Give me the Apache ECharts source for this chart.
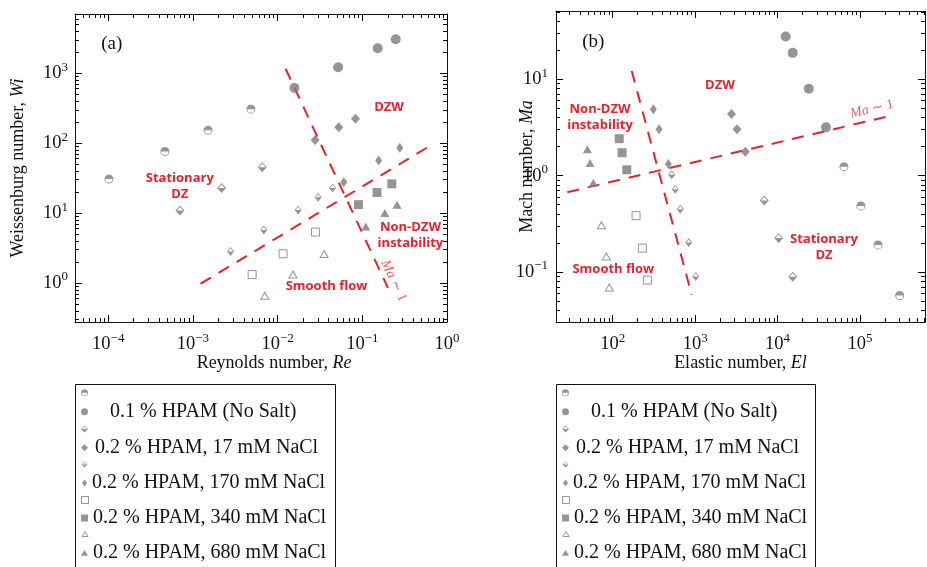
<!DOCTYPE html>
<html><head><meta charset="utf-8">
<script src="https://cdn.jsdelivr.net/npm/echarts@6/dist/echarts.min.js"></script>
<style>html,body{margin:0;padding:0;background:#fff}#c{width:927px;height:567px}</style>
</head><body><div id="c"></div>
<script>
// ---------------- DATA ----------------
const SERIES_NAMES = ['0.1 % HPAM (No Salt)', '0.2 % HPAM, 17 mM NaCl', '0.2 % HPAM, 170 mM NaCl', '0.2 % HPAM, 340 mM NaCl', '0.2 % HPAM, 680 mM NaCl'];

// Panel (a): Reynolds number Re (x) vs Weissenberg number Wi (y)
const a_noSalt_stat_re = [1.02e-4, 4.67e-4, 1.51e-3, 4.83e-3];
const a_noSalt_stat_wi = [30.6, 75.9, 153, 306];
const a_noSalt_flow_re = [0.0158, 0.0518, 0.152, 0.248];
const a_noSalt_flow_wi = [617, 1218, 2275, 3060];
const a_17_stat_re = [7.02e-4, 2.18e-3, 6.59e-3];
const a_17_stat_wi = [10.9, 22.8, 45.4];
const a_17_flow_re = [0.0277, 0.0527, 0.083];
const a_17_flow_wi = [111, 169, 224];
const a_170_stat_re = [2.78e-3, 6.87e-3, 0.01746, 0.0301, 0.0445];
const a_170_stat_wi = [2.83, 5.71, 11.1, 16.9, 22.8];
const a_170_flow_re = [0.0604, 0.156, 0.277];
const a_170_flow_wi = [27.7, 56.4, 85.7];
const a_340_stat_re = [5.0e-3, 0.0116, 0.028];
const a_340_stat_wi = [1.32, 2.62, 5.35];
const a_340_flow_re = [0.0902, 0.149, 0.223];
const a_340_flow_wi = [13.2, 19.7, 26.2];
const a_680_stat_re = [7.06e-3, 0.0152, 0.0354];
const a_680_stat_wi = [0.659, 1.32, 2.6];
const a_680_flow_re = [0.11, 0.184, 0.257];
const a_680_flow_wi = [6.44, 10, 13.2];
const a_line_ma_re = [0.01239, 0.201];
const a_line_ma_wi = [1164, 0.849];
const a_line_el_re = [1.23e-3, 0.659];
const a_line_el_wi = [0.977, 94.6];

// Panel (b): Elastic number El (x) vs Mach number Ma (y)
const b_noSalt_stat_el = [63900, 102800, 165500, 303000];
const b_noSalt_stat_ma = [1.24, 0.485, 0.191, 0.0571];
const b_noSalt_flow_el = [12560, 15270, 23900, 38700];
const b_noSalt_flow_ma = [27.8, 18.8, 7.97, 3.17];
const b_17_stat_el = [6900, 10330, 15270];
const b_17_stat_ma = [0.551, 0.226, 0.0892];
const b_17_flow_el = [2760, 3220, 4060];
const b_17_flow_ma = [4.36, 3.03, 1.77];
const b_170_stat_el = [520, 574, 661, 836, 1016];
const b_170_stat_ma = [1.02, 0.723, 0.449, 0.202, 0.0898];
const b_170_flow_el = [311, 365, 473];
const b_170_flow_ma = [4.88, 3.03, 1.32];
const b_340_stat_el = [192, 229, 263];
const b_340_stat_ma = [0.385, 0.177, 0.0824];
const b_340_flow_el = [120, 130, 148];
const b_340_flow_ma = [2.42, 1.73, 1.15];
const b_680_stat_el = [72.9, 83.6, 90.9];
const b_680_stat_ma = [0.306, 0.145, 0.069];
const b_680_flow_el = [49.2, 53.1, 58.2];
const b_680_flow_ma = [1.88, 1.35, 0.846];
const b_line_ma_el = [28.1, 227000];
const b_line_ma_ma = [0.673, 4.15];
const b_line_el_el = [170, 908];
const b_line_el_ma = [12.2, 0.058];

// Axis ticks
const A_X_TICKS = [1e-4, 1e-3, 1e-2, 1e-1, 1];
const A_Y_TICKS = [1, 10, 100, 1000];
const B_X_TICKS = [100, 1000, 1e4, 1e5];
const B_Y_TICKS = [0.1, 1, 10];
const A_X_RANGE = [4.05e-5, 1];
const A_Y_RANGE = [0.277, 7030];
const B_X_RANGE = [20.5, 615000];
const B_Y_RANGE = [0.0303, 51.1];

// ---------------- STYLE ----------------
const GRAY = '#7a7a7a';
const RED = '#e8212b';
const INK = '#111111';
const TICK = '#000000';
const SERIF = "'Liberation Serif', 'DejaVu Serif', serif";
const SANS = "'Open Sans', 'Noto Sans', sans-serif";
const HALF_CIRCLE = 'path://M0,10 A10,10 0 1,1 20,10 A10,10 0 1,1 0,10 Z M2,10 A8,8 0 0,0 18,10 Z';
const HALF_DIAMOND = 'path://M10,0 L20,10 L10,20 L0,10 Z M10,2.9 L2.9,10 L17.1,10 Z';

function pairs(xs, ys) { return xs.map((x, i) => [x, ys[i]]); }
function minorTicks(r) {
  const out = [];
  for (let d = Math.floor(Math.log10(r[0])); d <= Math.ceil(Math.log10(r[1])); d++)
    for (let m = 2; m <= 9; m++) { const v = m * Math.pow(10, d); if (v > r[0] && v < r[1]) out.push(v); }
  return out;
}
function pow10Label(v) {
  const e = Math.round(Math.log10(v));
  return '{b|10}{s|' + (e < 0 ? '\u2212' + (-e) : e) + '}';
}
const labelRich = {
  b: { fontFamily: SERIF, fontSize: 18.5, color: INK },
  s: { fontFamily: SERIF, fontSize: 13, color: INK, padding: [0, 0, 12, 0] }
};
function axesFor(dim, grid, range, majors, name, nameGap, margin, namePad) {
  const pos = dim === 'x' ? ['bottom', 'top'] : ['left', 'right'];
  const base = {
    type: 'log', logBase: 10, gridIndex: grid, min: range[0], max: range[1],
    splitLine: { show: false }, minorTick: { show: false }, minorSplitLine: { show: false }
  };
  const out = [];
  pos.forEach((p, k) => {
    out.push(Object.assign({}, base, {
      position: p,
      axisLine: { show: true, onZero: false, lineStyle: { color: INK, width: 1 } },
      axisTick: { show: true, inside: true, length: 7, lineStyle: { color: TICK, width: 1 }, customValues: majors },
      axisLabel: k === 0 ? { show: true, customValues: majors, formatter: pow10Label, margin: margin, rich: labelRich } : { show: false },
      name: k === 0 ? name : '',
      nameLocation: 'middle', nameGap: nameGap, nameMoveOverlap: false,
      nameTextStyle: {
        padding: namePad || 0,
        rich: {
          t: { fontFamily: SERIF, fontSize: 18, color: INK },
          i: { fontFamily: SERIF, fontSize: 18, color: INK, fontStyle: 'italic' }
        }
      }
    }));
    out.push(Object.assign({}, base, {
      position: p,
      axisLine: { show: false, onZero: false },
      axisTick: { show: true, inside: true, length: 4, lineStyle: { color: TICK, width: 1 }, customValues: minorTicks(range) },
      axisLabel: { show: false }
    }));
  });
  return out;
}

const xAxes = [].concat(
  axesFor('x', 0, A_X_RANGE, A_X_TICKS, '{t|Reynolds number, }{i|Re}', 32, 10, [0, 0, 0, 26]),
  axesFor('x', 1, B_X_RANGE, B_X_TICKS, '{t|Elastic number, }{i|El}', 32, 10)
);
const yAxes = [].concat(
  axesFor('y', 0, A_Y_RANGE, A_Y_TICKS, '{t|Weissenburg number, }{i|Wi}', 48, 7),
  axesFor('y', 1, B_Y_RANGE, B_Y_TICKS, '{t|Mach number, }{i|Ma}', 20, 8)
);

// marker spec per series (order matches legend)
const MARKS = [
  { sym: HALF_CIRCLE, size: 9, kind: 'path', lw: 7, lh: 7 },
  { sym: 'circle', size: 10, kind: 'fill', lw: 7, lh: 7 },
  { sym: HALF_DIAMOND, size: [9, 10], kind: 'path', lw: 7, lh: 8 },
  { sym: 'diamond', size: [9, 10], kind: 'fill', lw: 7, lh: 7 },
  { sym: HALF_DIAMOND, size: [7, 9], kind: 'path', lw: 6, lh: 8 },
  { sym: 'diamond', size: [7, 10], kind: 'fill', lw: 5, lh: 7 },
  { sym: 'rect', size: 8, kind: 'hollow', lw: 7, lh: 7 },
  { sym: 'rect', size: 9, kind: 'fill', lw: 7, lh: 7 },
  { sym: 'triangle', size: [8, 7], kind: 'hollow', lw: 6, lh: 5 },
  { sym: 'triangle', size: [9, 8], kind: 'fill', lw: 7, lh: 6 }
];
const LEGEND_NAMES = [];
SERIES_NAMES.forEach(n => { LEGEND_NAMES.push(n + ' (stationary)'); LEGEND_NAMES.push(n); });

const A_DATA = [
  pairs(a_noSalt_stat_re, a_noSalt_stat_wi), pairs(a_noSalt_flow_re, a_noSalt_flow_wi),
  pairs(a_17_stat_re, a_17_stat_wi), pairs(a_17_flow_re, a_17_flow_wi),
  pairs(a_170_stat_re, a_170_stat_wi), pairs(a_170_flow_re, a_170_flow_wi),
  pairs(a_340_stat_re, a_340_stat_wi), pairs(a_340_flow_re, a_340_flow_wi),
  pairs(a_680_stat_re, a_680_stat_wi), pairs(a_680_flow_re, a_680_flow_wi)
];
const B_DATA = [
  pairs(b_noSalt_stat_el, b_noSalt_stat_ma), pairs(b_noSalt_flow_el, b_noSalt_flow_ma),
  pairs(b_17_stat_el, b_17_stat_ma), pairs(b_17_flow_el, b_17_flow_ma),
  pairs(b_170_stat_el, b_170_stat_ma), pairs(b_170_flow_el, b_170_flow_ma),
  pairs(b_340_stat_el, b_340_stat_ma), pairs(b_340_flow_el, b_340_flow_ma),
  pairs(b_680_stat_el, b_680_stat_ma), pairs(b_680_flow_el, b_680_flow_ma)
];

function styleFor(m) {
  if (m.kind === 'hollow') return { color: '#fff', borderColor: GRAY, borderWidth: 1 };
  return { color: GRAY, borderWidth: 0 };
}
const series = [];
function addLine(xs, ys, axis) {
  series.push({
    type: 'line', data: pairs(xs, ys), xAxisIndex: axis, yAxisIndex: axis, symbol: 'none', silent: true,
    lineStyle: { color: RED, width: 2, type: [12, 9] }, z: 2, animation: false
  });
}
addLine(a_line_ma_re, a_line_ma_wi, 0);
addLine(a_line_el_re, a_line_el_wi, 0);
addLine(b_line_ma_el, b_line_ma_ma, 4);
addLine(b_line_el_el, b_line_el_ma, 4);
[[A_DATA, 0], [B_DATA, 4]].forEach(([D, ax]) => {
  D.forEach((d, i) => {
    const m = MARKS[i];
    series.push({
      type: 'scatter', name: LEGEND_NAMES[i], data: d, xAxisIndex: ax, yAxisIndex: ax,
      symbol: m.sym, symbolSize: m.size, itemStyle: styleFor(m), z: 3, animation: false
    });
  });
});

// legends (one component per entry, laid out like the original)
const LEG_ROWS = [392.7, 411.7, 429, 447.7, 464.5, 483, 500, 518, 534, 552.7];
const LEG_TEXT_PAD = [0, 17, 0, 2, 0, 0, 0, 0, 0, 0];
const legends = [];
[75, 556].forEach(bx => {
  LEGEND_NAMES.forEach((n, i) => {
    const m = MARKS[i];
    legends.push({
      data: [n], left: bx + 9.5 - m.lw / 2, top: LEG_ROWS[i] - 10, padding: 0, itemGap: 0,
      itemWidth: m.lw, itemHeight: m.lh, selectedMode: false,
      itemStyle: m.kind === 'hollow' ? { borderWidth: 1, borderColor: GRAY, color: '#fff' } : { borderWidth: 0 },
      formatter: i % 2 === 0 ? ' ' : '{name}',
      textStyle: { fontFamily: SERIF, fontSize: 20, lineHeight: 20, color: INK, padding: [0, 0, 0, LEG_TEXT_PAD[i]] }
    });
  });
});

const option = {
  animation: false,
  backgroundColor: '#fff',
  grid: [
    { left: 75, top: 14, width: 372, height: 308 },
    { left: 556, top: 11, width: 369, height: 311 }
  ],
  xAxis: xAxes, yAxis: yAxes, legend: legends, series: series
};
const chart = echarts.init(document.getElementById('c'));
chart.setOption(option);

// annotations anchored in data coordinates
const P = (g, x, y) => chart.convertToPixel({ gridIndex: g }, [x, y]);
function label(g, x, y, text, extra) {
  const p = P(g, x, y);
  return Object.assign({
    type: 'text', x: p[0], y: p[1], z: 10,
    style: Object.assign({
      text: text, fill: RED, font: 'bold 13px ' + SANS, lineHeight: 16,
      align: 'center', verticalAlign: 'middle', textAlign: 'center', textVerticalAlign: 'middle'
    }, extra || {})
  });
}
const maRich = { i: { fontStyle: 'italic', fontFamily: SERIF, fontSize: 14, fill: '#e86060' }, r: { fontFamily: SERIF, fontSize: 14, fill: '#e86060' } };
const graphics = [
  label(0, 1.1e-4, 2620, '(a)', { fill: INK, font: '19px ' + SERIF }),
  label(0, 0.207, 327, 'DZW'),
  label(0, 7.0e-4, 24.0, 'Stationary\nDZ'),
  label(0, 0.37, 4.74, 'Non-DZW\ninstability'),
  label(0, 0.0378, 0.894, 'Smooth flow'),
  Object.assign(label(0, 0.235, 1.08, '{i|Ma} {r|\u223C 1}', { rich: maRich, fill: '#e86060' }), { rotation: -65 * Math.PI / 180 }),
  label(1, 58.2, 24.5, '(b)', { fill: INK, font: '19px ' + SERIF }),
  label(1, 2000, 8.71, 'DZW'),
  label(1, 70.2, 4.03, 'Non-DZW\ninstability'),
  label(1, 101.7, 0.107, 'Smooth flow'),
  label(1, 36600, 0.1816, 'Stationary\nDZ'),
  Object.assign(label(1, 140000, 4.91, '{i|Ma} {r|\u223C 1}', { rich: maRich, fill: '#e86060' }), { rotation: 13.3 * Math.PI / 180 }),
  { type: 'rect', shape: { x: 75.5, y: 384.5, width: 260, height: 220 }, style: { fill: 'none', stroke: INK, lineWidth: 1 }, z: 0 },
  { type: 'rect', shape: { x: 556.5, y: 384.5, width: 259, height: 220 }, style: { fill: 'none', stroke: INK, lineWidth: 1 }, z: 0 }
];
chart.setOption({ graphic: graphics });
</script></body></html>
